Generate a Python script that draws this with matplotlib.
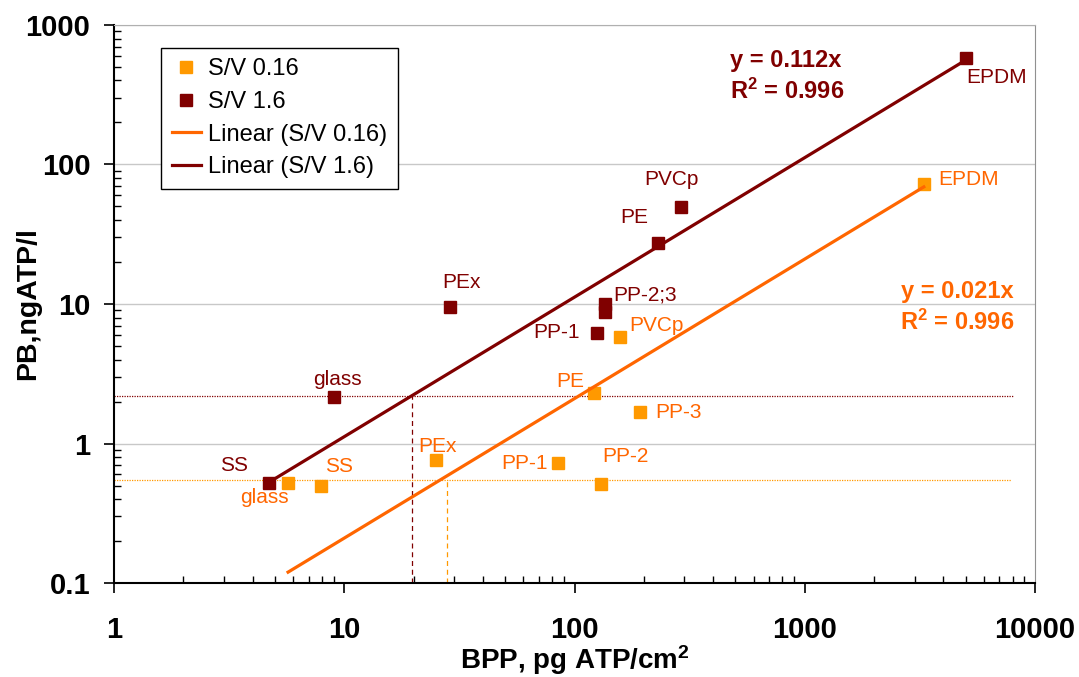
import matplotlib
matplotlib.use('Agg')
import matplotlib.pyplot as plt
from matplotlib.ticker import LogLocator, FuncFormatter, NullFormatter
import numpy as np

plt.rcParams['font.family'] = ['Liberation Sans', 'DejaVu Sans']

# S/V 0.16 samples
names_lo = ['glass', 'SS', 'PEx', 'PP-1', 'PP-2', 'PE', 'PP-3', 'PVCp', 'EPDM']
bpp_lo = [5.7, 7.9, 25.1, 85, 130, 122, 192, 158, 3290]
pb_lo = [0.52, 0.50, 0.76, 0.72, 0.51, 2.3, 1.68, 5.8, 72]

# S/V 1.6 samples
names_hi = ['SS', 'glass', 'PEx', 'PP-1', 'PP-2;3', 'PP-2;3', 'PE', 'PVCp', 'EPDM']
bpp_hi = [4.7, 9.05, 28.9, 125, 135, 135, 230, 289, 5010]
pb_hi = [0.52, 2.15, 9.5, 6.2, 10.0, 8.8, 27.3, 49.3, 580]

slope_lo = 0.021
slope_hi = 0.112
r2_lo = 0.996
r2_hi = 0.996

# threshold guide lines
thr_pb_lo, thr_bpp_lo = 0.545, 27.8
thr_pb_hi, thr_bpp_hi = 2.2, 19.6

orange_mk = '#FF9900'
orange_ln = '#FF6600'
dark = '#800000'

# label offsets in pixels (dx, dy, ha)
offs_lo = [(-24, -14, 'center'), (18, 19, 'center'), (1, 14, 'center'),
           (-11, 0, 'right'), (25, 28, 'center'), (-24, 12, 'center'),
           (16, 0, 'left'), (9, 12, 'left'), (14, 5, 'left')]
offs_hi = [(-35, 18, 'center'), (3, 18, 'center'), (11, 25, 'center'),
           (-17, 0, 'right'), (9, 9, 'left'), None, (-24, 26, 'center'),
           (-9, 28, 'center'), (0, -20, 'left')]

fig = plt.figure(figsize=(10.79, 6.77), dpi=100)
ax = fig.add_axes([0.1057, 0.1388, 0.8535, 0.8243])
ax.set_xscale('log')
ax.set_yscale('log')
ax.set_xlim(1, 10000)
ax.set_ylim(0.1, 1000)

ax.grid(True, which='major', axis='y', color='#c8c8c8', lw=1)
ax.set_axisbelow(True)

# guide lines
ax.plot([1, 8100], [thr_pb_hi, thr_pb_hi], color=dark, lw=0.9, ls=(0, (1, 1)))
ax.plot([1, 7900], [thr_pb_lo, thr_pb_lo], color=orange_mk, lw=0.9, ls=(0, (1, 1)))
ax.plot([thr_bpp_hi, thr_bpp_hi], [0.1, thr_pb_hi], color=dark, lw=0.9, ls=(0, (4, 3)))
ax.plot([thr_bpp_lo, thr_bpp_lo], [0.1, thr_pb_lo], color=orange_mk, lw=0.9, ls=(0, (4, 3)))

# trend lines
xl = np.array([min(bpp_lo), max(bpp_lo)])
xh = np.array([min(bpp_hi), max(bpp_hi)])

ax.plot(bpp_lo, pb_lo, ls='none', marker='s', ms=8.5, color=orange_mk, label='S/V 0.16')
ax.plot(bpp_hi, pb_hi, ls='none', marker='s', ms=8.5, color=dark, label='S/V 1.6')
ax.plot(xl, slope_lo * xl, color=orange_ln, lw=2.3, label='Linear (S/V 0.16)')
ax.plot(xh, slope_hi * xh, color=dark, lw=2.3, label='Linear (S/V 1.6)')

for n, x, y, o in zip(names_lo, bpp_lo, pb_lo, offs_lo):
    ax.annotate(n, (x, y), xytext=(o[0] * 0.72, o[1] * 0.72), textcoords='offset points',
                ha=o[2], va='center', fontsize=15, color=orange_ln)
for n, x, y, o in zip(names_hi, bpp_hi, pb_hi, offs_hi):
    if o is None:
        continue
    ax.annotate(n, (x, y), xytext=(o[0] * 0.72, o[1] * 0.72), textcoords='offset points',
                ha=o[2], va='center', fontsize=15, color=dark)

ax.text(0.669, 0.937, 'y = %.3fx' % slope_hi, transform=ax.transAxes, fontsize=17,
        fontweight='bold', color=dark, va='center', ha='left')
ax.text(0.669, 0.881, '$\\mathregular{R^2}$ = %.3f' % r2_hi, transform=ax.transAxes, fontsize=17,
        fontweight='bold', color=dark, va='center', ha='left')
ax.text(0.977, 0.523, 'y = %.3fx' % slope_lo, transform=ax.transAxes, fontsize=17,
        fontweight='bold', color=orange_ln, va='center', ha='right')
ax.text(0.977, 0.467, '$\\mathregular{R^2}$ = %.3f' % r2_lo, transform=ax.transAxes, fontsize=17,
        fontweight='bold', color=orange_ln, va='center', ha='right')

leg = ax.legend(loc='upper left', bbox_to_anchor=(0.051, 0.959), borderaxespad=0,
                fontsize=17, frameon=True, fancybox=False, edgecolor='black', framealpha=1,
                handlelength=1.25, handletextpad=0.3, borderpad=0.45, labelspacing=0.45)
leg.get_frame().set_linewidth(1.0)

fmt = FuncFormatter(lambda v, p: '%g' % v)
for axis in (ax.xaxis, ax.yaxis):
    axis.set_major_locator(LogLocator(base=10, numticks=10))
    axis.set_minor_locator(LogLocator(base=10, subs=np.arange(2, 10), numticks=10))
    axis.set_major_formatter(fmt)
    axis.set_minor_formatter(NullFormatter())

ax.tick_params(which='major', direction='out', length=7, width=1.2, labelsize=21)
ax.tick_params(which='minor', direction='in', length=5, width=1)
ax.tick_params(axis='x', which='major', pad=17)
ax.tick_params(axis='y', which='major', pad=10)
for lab in ax.get_xticklabels() + ax.get_yticklabels():
    lab.set_fontweight('bold')

ax.spines['left'].set_color('black')
ax.spines['bottom'].set_color('black')
ax.spines['left'].set_linewidth(1.5)
ax.spines['bottom'].set_linewidth(1.5)
ax.spines['top'].set_color('#b0b0b0')
ax.spines['right'].set_color('#909090')

ax.set_xlabel('BPP, pg ATP/cm$\\mathregular{^2}$', fontsize=20, fontweight='bold')
ax.set_ylabel('PB,ngATP/l', fontsize=20.5, fontweight='bold')
ax.xaxis.set_label_coords(0.5, -0.108)
ax.yaxis.set_label_coords(-0.079, 0.5)

fig.savefig('out.png', dpi=100)
